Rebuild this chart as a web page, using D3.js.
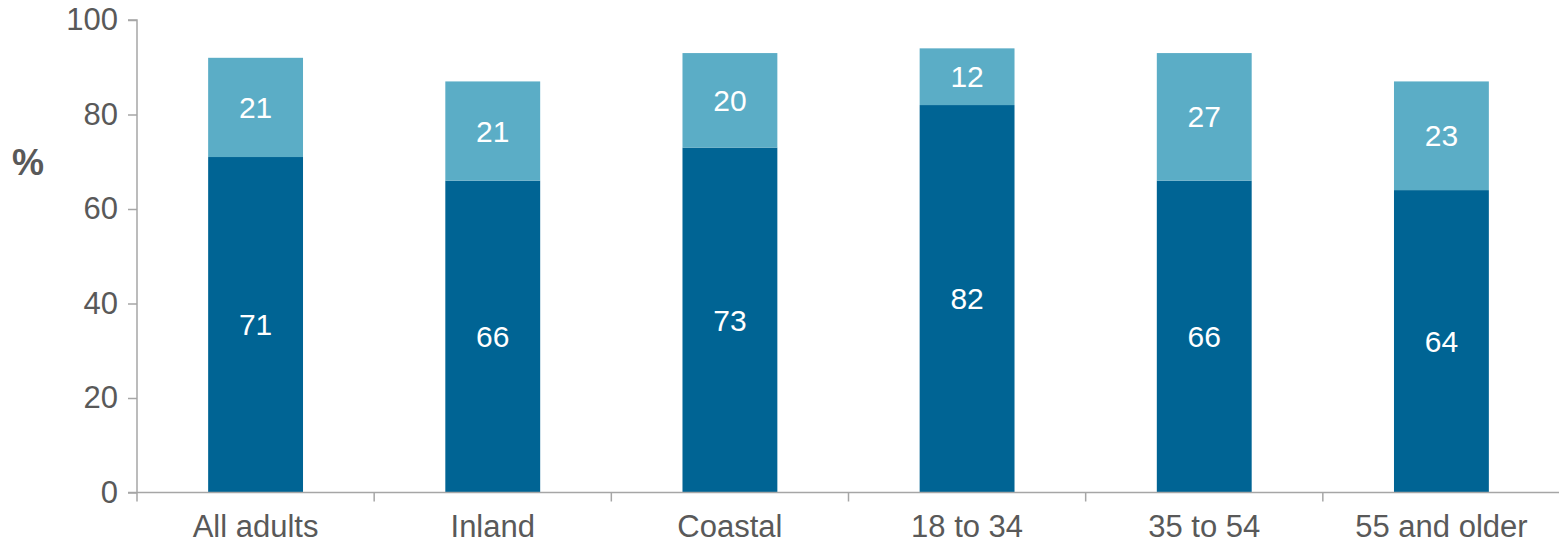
<!DOCTYPE html>
<html><head><meta charset="utf-8">
<script src="https://cdn.jsdelivr.net/npm/d3@7/dist/d3.min.js"></script>
<style>body{margin:0;background:#fff;} svg{display:block;font-family:"Liberation Sans",Arial,sans-serif;}</style>
</head><body>
<svg id="c" width="1559" height="545"></svg>
<script>
const categories = ["All adults","Inland","Coastal","18 to 34","35 to 54","55 and older"];
const seriesNames = ["Lower","Upper"];
const lowerValues = [71,66,73,82,66,64];
const upperValues = [21,21,20,12,27,23];
const yTicks = [0,20,40,60,80,100];
const colors = ["#006494","#5BADC6"];

const svg = d3.select("#c");
const x0 = 137, x1 = 1560, yTop = 20, yBot = 492.5;
const y = d3.scaleLinear().domain([0,100]).range([yBot,yTop]);
const x = d3.scaleBand().domain(categories).range([x0,x1]).paddingInner(0.6).paddingOuter(0.3);
const step = x.step();

const data = categories.map((c,i)=>({cat:c, vals:[lowerValues[i], upperValues[i]]}));
const stack = d3.stack().keys([0,1]).value((d,k)=>d.vals[k]);
const series = stack(data);

const g = svg.append("g");
series.forEach((s,k)=>{
  g.selectAll(null).data(s).enter().append("rect")
    .attr("x", d=>x(d.data.cat))
    .attr("width", x.bandwidth())
    .attr("y", d=>y(d[1]))
    .attr("height", d=>y(d[0])-y(d[1]))
    .attr("fill", colors[k]);
  g.selectAll(null).data(s).enter().append("text")
    .attr("x", d=>x(d.data.cat)+x.bandwidth()/2)
    .attr("y", d=>y((d[0]+d[1])/2))
    .attr("dy","0.35em")
    .attr("text-anchor","middle")
    .attr("fill","#fff")
    .attr("font-size","30px")
    .text(d=>d[1]-d[0]);
});

const axisColor = "#A6A6A6";
const textColor = "#595959";
// y axis
const ya = svg.append("g").attr("transform",`translate(${x0},0)`)
  .call(d3.axisLeft(y).tickValues(yTicks).tickSize(9).tickPadding(10));
ya.select(".domain").attr("stroke",axisColor).attr("stroke-width",1.5).attr("d",`M-9,${yTop}H0V${yBot}`);
ya.selectAll(".tick line").attr("stroke",axisColor).attr("stroke-width",1.5);
ya.selectAll(".tick text").attr("fill",textColor).attr("font-size","31px").attr("font-family","Liberation Sans, Arial, sans-serif");

// x axis
const xa = svg.append("g");
xa.append("line").attr("x1",x0-9).attr("x2",x1).attr("y1",yBot).attr("y2",yBot).attr("stroke",axisColor).attr("stroke-width",1.5);
const bounds = categories.map(c=>x(c)-step*0.3).concat([x1]);
xa.selectAll(null).data(bounds).enter().append("line")
  .attr("x1",d=>d).attr("x2",d=>d).attr("y1",yBot).attr("y2",yBot+9)
  .attr("stroke",axisColor).attr("stroke-width",1.5);
xa.selectAll(null).data(categories).enter().append("text")
  .attr("x",d=>x(d)+x.bandwidth()/2).attr("y",537)
  .attr("text-anchor","middle").attr("fill",textColor).attr("font-size","31px")
  .text(d=>d);

svg.append("text").attr("x",28).attr("y",175).attr("text-anchor","middle")
  .attr("fill",textColor).attr("font-size","36px").attr("font-weight","bold").text("%");
</script>
</body></html>
